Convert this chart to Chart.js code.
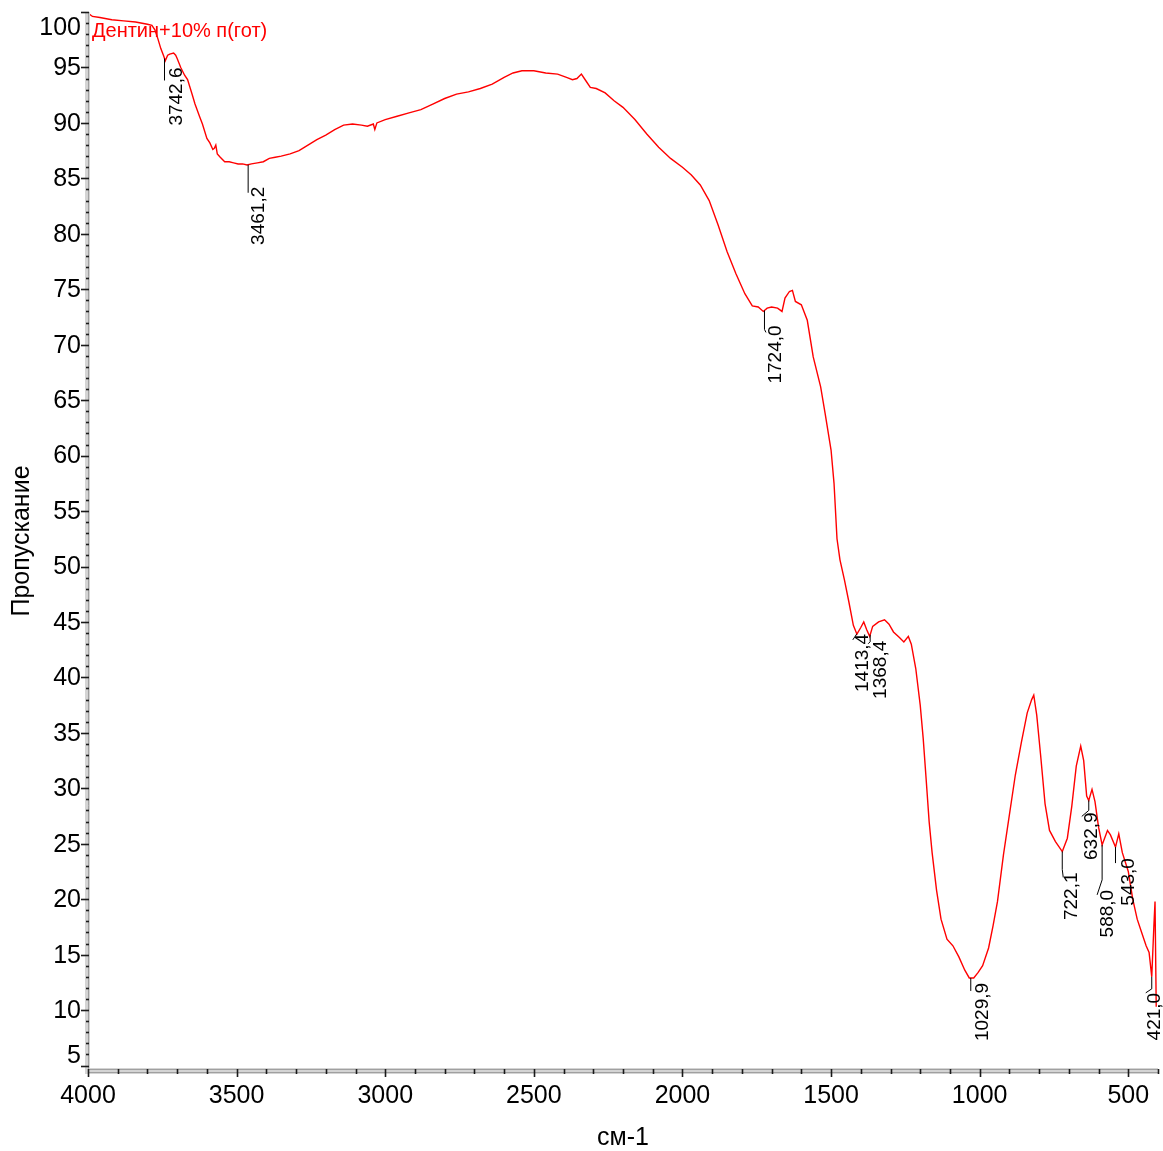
<!DOCTYPE html>
<html>
<head>
<meta charset="utf-8">
<title>ИК-спектр</title>
<script src="https://cdn.jsdelivr.net/npm/chart.js@4.4.1/dist/chart.umd.min.js"></script>
<style>
  html, body { margin: 0; padding: 0; background: #ffffff; }
  #wrap { width: 1163px; height: 1151px; }
</style>
</head>
<body>
<div id="wrap"><canvas id="spectrum" width="1163" height="1151"></canvas></div>
<script>
// Spectrum: wavenumber (cm-1) and transmittance (%)
const seriesName = 'Дентин+10% п(гот)';
const wavenumbers = [
  4000, 3985, 3960, 3920, 3880, 3840, 3800, 3785, 3775, 3765,
  3755, 3745, 3740, 3732, 3725, 3712, 3705, 3700, 3688, 3675,
  3665, 3650, 3640, 3625, 3615, 3600, 3590, 3580, 3575, 3570,
  3565, 3555, 3540, 3525, 3510, 3495, 3480, 3465, 3450, 3430,
  3410, 3390, 3370, 3350, 3320, 3290, 3260, 3230, 3200, 3170,
  3140, 3110, 3080, 3060, 3040, 3035, 3028, 3000, 2960, 2920,
  2880, 2840, 2800, 2760, 2720, 2680, 2640, 2600, 2570, 2540,
  2500, 2460, 2420, 2390, 2370, 2355, 2340, 2325, 2310, 2290,
  2260, 2230, 2200, 2160, 2120, 2080, 2040, 2000, 1970, 1940,
  1910, 1880, 1850, 1820, 1790, 1765, 1745, 1728, 1715, 1700,
  1680, 1665, 1655, 1640, 1630, 1620, 1600, 1580, 1560, 1535,
  1520, 1500, 1490, 1480, 1470, 1455, 1440, 1425, 1413, 1400,
  1390, 1380, 1370, 1360, 1340, 1320, 1305, 1290, 1270, 1255,
  1240, 1230, 1215, 1200, 1190, 1180, 1170, 1160, 1145, 1130,
  1110, 1090, 1070, 1050, 1035, 1020, 1005, 990, 970, 955,
  940, 920, 900, 880, 860, 840, 825, 818, 808, 795,
  780, 765, 745, 722, 705, 690, 675, 660, 650, 640,
  633, 622, 612, 600, 588, 570, 560, 543, 532, 520,
  500, 485, 470, 455, 440, 430, 421, 414, 410, 406
];
const transmittance = [
  99.9, 99.6, 99.5, 99.3, 99.2, 99.1, 98.9, 98.8, 98.4, 97.6,
  96.7, 96.0, 95.6, 96.1, 96.2, 96.3, 96.1, 95.8, 95.0, 94.3,
  93.9, 92.6, 91.7, 90.6, 89.9, 88.6, 88.2, 87.6, 87.7, 88.0,
  87.2, 86.9, 86.5, 86.5, 86.4, 86.3, 86.3, 86.2, 86.3, 86.4,
  86.5, 86.8, 86.9, 87.0, 87.2, 87.5, 88.0, 88.5, 88.9, 89.4,
  89.8, 89.9, 89.8, 89.7, 89.9, 89.4, 90.0, 90.3, 90.6, 90.9,
  91.2, 91.7, 92.2, 92.6, 92.8, 93.1, 93.5, 94.1, 94.5, 94.7,
  94.7, 94.5, 94.4, 94.1, 93.9, 94.0, 94.4, 93.8, 93.2, 93.1,
  92.7, 92.0, 91.4, 90.3, 89.0, 87.8, 86.8, 86.0, 85.3, 84.4,
  83.0, 80.8, 78.4, 76.4, 74.6, 73.5, 73.4, 73.0, 73.3, 73.4,
  73.3, 73.0, 74.2, 74.8, 74.9, 73.9, 73.6, 72.2, 68.9, 66.2,
  63.8, 60.5, 57.5, 52.5, 50.6, 48.8, 46.8, 44.7, 43.9, 44.5,
  45.0, 44.3, 43.7, 44.6, 45.0, 45.2, 44.8, 44.1, 43.6, 43.2,
  43.7, 43.0, 40.8, 37.5, 34.5, 30.8, 27.0, 24.2, 20.8, 18.2,
  16.4, 15.8, 14.8, 13.6, 12.9, 12.9, 13.4, 14.0, 15.6, 17.6,
  19.8, 24.0, 27.6, 31.2, 34.1, 36.8, 38.0, 38.4, 36.6, 33.0,
  28.6, 26.2, 25.2, 24.3, 25.5, 28.4, 32.0, 33.8, 32.5, 29.3,
  28.9, 29.9, 28.8, 26.5, 24.9, 26.2, 25.8, 24.7, 25.9, 24.2,
  22.5, 20.0, 18.2, 17.0, 15.8, 15.2, 13.0, 17.5, 19.8, 10.3
];

// Marked bands
const peakPositions = [3742.6, 3461.2, 1724.0, 1413.4, 1368.4, 1029.9, 722.1, 632.9, 588.0, 543.0, 421.0];
const peakLabels = ['3742,6', '3461,2', '1724,0', '1413,4', '1368,4', '1029,9', '722,1', '632,9', '588,0', '543,0', '421,0'];

// Axis ticks and titles
const xMajorTicks = [4000, 3500, 3000, 2500, 2000, 1500, 1000, 500];
const xTickLabels = ['4000', '3500', '3000', '2500', '2000', '1500', '1000', '500'];
const yMajorTicks = [5, 10, 15, 20, 25, 30, 35, 40, 45, 50, 55, 60, 65, 70, 75, 80, 85, 90, 95, 100];
const xTitle = 'см-1';
const yTitle = 'Пропускание';

// Leader-line and label placement for each marked band (pixel offsets from the band point)
const peakLayout = [
  { path: [[0, 0], [0, 22]],              text: [12.5, 9] },
  { path: [[0, 0], [0, 28]],              text: [10.5, 22] },
  { path: [[0, 0], [0, 19], [1.5, 22]],   text: [11, 15] },
  { path: [[0, 0], [-4, 6]],              text: [6, 0] },
  { path: [[0, 0], [0, 7], [-2, 9]],      text: [11, 6] },
  { path: [[0, 0], [0, 13]],              text: [11.5, 5] },
  { path: [[0, 0], [0, 18], [1, 26]],     text: [10, 21] },
  { path: [[0, 0], [0, 10], [-7, 16]],    text: [3, 12] },
  { path: [[0, 0], [0, 35], [-5, 50]],    text: [5.5, 45] },
  { path: [[0, 0], [0, 16]],              text: [13, 11] },
  { path: [[0, 0], [0, 12], [-6, 16]],    text: [3, 16] }
];

const FONT = "'Liberation Sans', Arial, Helvetica, sans-serif";

function valueAt(wn) {
  for (let i = 0; i < wavenumbers.length - 1; i++) {
    const a = wavenumbers[i], b = wavenumbers[i + 1];
    if ((wn <= a && wn >= b)) {
      const t = (a - wn) / (a - b);
      return transmittance[i] + t * (transmittance[i + 1] - transmittance[i]);
    }
  }
  return transmittance[transmittance.length - 1];
}

const decorations = {
  id: 'decorations',
  afterDraw(chart) {
    const ctx = chart.ctx;
    const xs = chart.scales.x, ys = chart.scales.y;
    const area = chart.chartArea;
    ctx.save();

    // axis bands
    ctx.fillStyle = '#d4d4d4';
    ctx.fillRect(area.left - 3, area.top, 5, area.bottom - area.top + 2);
    ctx.fillRect(area.left - 3, area.bottom - 2, area.right - area.left + 3, 6);
    ctx.strokeStyle = '#a0a0a0';
    ctx.lineWidth = 1;
    ctx.beginPath();
    ctx.moveTo(area.left + 0.5, area.top); ctx.lineTo(area.left + 0.5, area.bottom);
    ctx.moveTo(area.left, area.bottom - 0.5); ctx.lineTo(area.right, area.bottom - 0.5);
    ctx.moveTo(area.left, area.bottom + 2.5); ctx.lineTo(area.right, area.bottom + 2.5);
    ctx.stroke();

    // y ticks
    ctx.strokeStyle = '#1a1a1a';
    ctx.lineWidth = 1.6;
    for (let v = Math.ceil(ys.min); v <= ys.max; v++) {
      const y = Math.round(ys.getPixelForValue(v)) + 0.5;
      ctx.beginPath();
      if (v % 5 === 0) { ctx.moveTo(area.left - 7, y); ctx.lineTo(area.left + 1, y); }
      else { ctx.moveTo(area.left - 2, y); ctx.lineTo(area.left + 1, y); }
      ctx.stroke();
    }
    // x ticks
    for (let v = 400; v <= 4000; v += 100) {
      const x = Math.round(xs.getPixelForValue(v)) + 0.5;
      ctx.beginPath();
      ctx.moveTo(x, area.bottom - 1);
      ctx.lineTo(x, area.bottom + (v % 500 === 0 ? 7 : 4));
      ctx.stroke();
    }

    // tick labels
    ctx.fillStyle = '#000000';
    ctx.font = '25px ' + FONT;
    ctx.textAlign = 'right';
    ctx.textBaseline = 'middle';
    yMajorTicks.forEach(v => {
      let y = ys.getPixelForValue(v);
      y = Math.min(Math.max(y, area.top + 15), area.bottom - 15);
      ctx.fillText(String(v), area.left - 7, y + 1);
    });
    ctx.textAlign = 'center';
    xMajorTicks.forEach((v, i) => {
      ctx.fillText(xTickLabels[i], xs.getPixelForValue(v), area.bottom + 26);
    });

    // axis titles
    ctx.font = '25px ' + FONT;
    ctx.fillText(xTitle, (area.left + area.right) / 2, area.bottom + 68);
    ctx.save();
    ctx.translate(22, (area.top + area.bottom) / 2);
    ctx.rotate(-Math.PI / 2);
    ctx.fillText(yTitle, 0, 0);
    ctx.restore();

    // series name
    ctx.fillStyle = '#ff0000';
    ctx.font = '20px ' + FONT;
    ctx.textAlign = 'left';
    ctx.textBaseline = 'alphabetic';
    ctx.fillText(seriesName, area.left + 4, area.top + 25);

    // band markers
    ctx.strokeStyle = '#000000';
    ctx.fillStyle = '#000000';
    ctx.lineWidth = 1;
    ctx.font = '19px ' + FONT;
    peakPositions.forEach((wn, i) => {
      const px = xs.getPixelForValue(wn);
      const py = ys.getPixelForValue(valueAt(wn));
      const lay = peakLayout[i];
      ctx.beginPath();
      lay.path.forEach((p, k) => {
        const X = px + p[0], Y = py + p[1];
        if (k === 0) ctx.moveTo(X, Y); else ctx.lineTo(X, Y);
      });
      ctx.stroke();
      ctx.save();
      ctx.translate(px + lay.text[0], py + lay.text[1]);
      ctx.rotate(-Math.PI / 2);
      ctx.textAlign = 'right';
      ctx.textBaseline = 'middle';
      ctx.fillText(peakLabels[i], 0, 0);
      ctx.restore();
    });

    ctx.restore();
  }
};

new Chart(document.getElementById('spectrum'), {
  type: 'line',
  data: {
    datasets: [{
      label: seriesName,
      data: wavenumbers.map((w, i) => ({ x: w, y: transmittance[i] })),
      borderColor: '#ff0000',
      borderWidth: 1.4,
      pointRadius: 0,
      tension: 0,
      fill: false
    }]
  },
  options: {
    responsive: false,
    animation: false,
    devicePixelRatio: 1,
    layout: { padding: { left: 88, top: 12, right: 5, bottom: 81 } },
    plugins: { legend: { display: false }, tooltip: { enabled: false } },
    scales: {
      x: { type: 'linear', reverse: true, min: 400, max: 4000, display: false },
      y: { type: 'linear', min: 4.6, max: 100, display: false }
    }
  },
  plugins: [decorations]
});
</script>
</body>
</html>
